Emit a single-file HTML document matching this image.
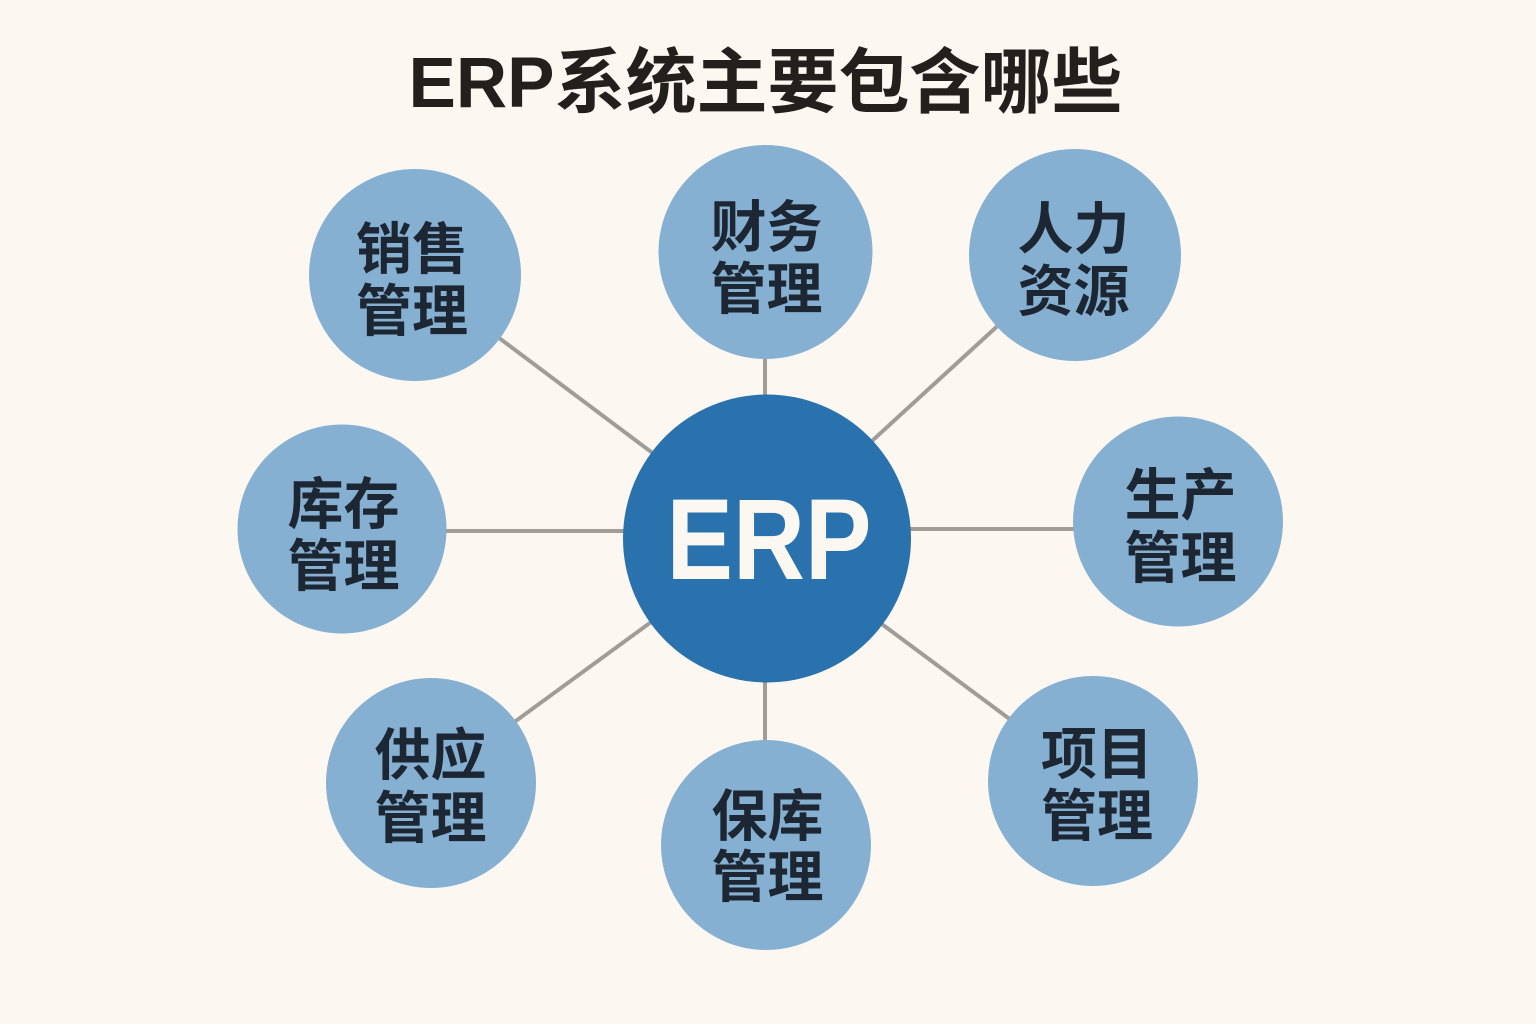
<!DOCTYPE html>
<html>
<head>
<meta charset="utf-8">
<style>
  html, body { margin: 0; padding: 0; background: #fcf8f1; }
  svg { display: block; }
  .lbl { font-family: "Liberation Sans", "Noto Sans CJK SC", sans-serif; font-weight: 700; font-size: 56px; fill: #1c2733; }
</style>
</head>
<body>
<svg width="1536" height="1024" viewBox="0 0 1536 1024" xmlns="http://www.w3.org/2000/svg">
  <rect x="0" y="0" width="1536" height="1024" fill="#fcf8f1"/>

  <!-- Title -->
  <text x="765.5" y="107" text-anchor="middle" textLength="714" lengthAdjust="spacingAndGlyphs"
        style="font-family:'Liberation Sans','Noto Sans CJK SC',sans-serif;font-weight:700;font-size:71px;fill:#231f1c;">ERP系统主要包含哪些</text>

  <!-- Connectors -->
  <g stroke="#a09d99" stroke-width="4" stroke-linecap="butt">
    <line x1="415" y1="275" x2="766" y2="538"/>
    <line x1="765" y1="340" x2="765" y2="420"/>
    <line x1="1075" y1="255" x2="766" y2="538"/>
    <line x1="430" y1="531" x2="640" y2="531"/>
    <line x1="890" y1="529" x2="1100" y2="529"/>
    <line x1="431" y1="783" x2="766" y2="538"/>
    <line x1="765" y1="660" x2="765" y2="760"/>
    <line x1="1093" y1="781" x2="766" y2="538"/>
  </g>

  <!-- Outer circles -->
  <g fill="#86b0d1">
    <circle cx="415" cy="275" r="106"/>
    <circle cx="765.5" cy="252" r="107"/>
    <circle cx="1075" cy="255" r="106"/>
    <circle cx="342" cy="529" r="104.5"/>
    <circle cx="1178" cy="521.5" r="105"/>
    <circle cx="431" cy="783" r="105"/>
    <circle cx="766" cy="845" r="105"/>
    <circle cx="1093" cy="781" r="105"/>
  </g>

  <!-- Central circle -->
  <circle cx="767" cy="538.5" r="144" fill="#2a72ae"/>
  <text x="769" y="579" text-anchor="middle" textLength="205" lengthAdjust="spacingAndGlyphs"
        style="font-family:'Liberation Sans',sans-serif;font-weight:700;font-size:115px;fill:#fbf8f2;">ERP</text>

  <!-- Labels -->
  <text class="lbl" x="412" y="269" text-anchor="middle">销售</text>
  <text class="lbl" x="412" y="331" text-anchor="middle">管理</text>

  <text class="lbl" x="766.5" y="247" text-anchor="middle">财务</text>
  <text class="lbl" x="766.5" y="309" text-anchor="middle">管理</text>

  <text class="lbl" x="1073.5" y="249" text-anchor="middle">人力</text>
  <text class="lbl" x="1073.5" y="311" text-anchor="middle">资源</text>

  <text class="lbl" x="343.5" y="524" text-anchor="middle">库存</text>
  <text class="lbl" x="343.5" y="586" text-anchor="middle">管理</text>

  <text class="lbl" x="1180.5" y="515" text-anchor="middle">生产</text>
  <text class="lbl" x="1180.5" y="578" text-anchor="middle">管理</text>

  <text class="lbl" x="430.5" y="775" text-anchor="middle">供应</text>
  <text class="lbl" x="430.5" y="838" text-anchor="middle">管理</text>

  <text class="lbl" x="767.5" y="836" text-anchor="middle">保库</text>
  <text class="lbl" x="767.5" y="897" text-anchor="middle">管理</text>

  <text class="lbl" x="1097" y="774" text-anchor="middle">项目</text>
  <text class="lbl" x="1097" y="836" text-anchor="middle">管理</text>
</svg>
</body>
</html>
